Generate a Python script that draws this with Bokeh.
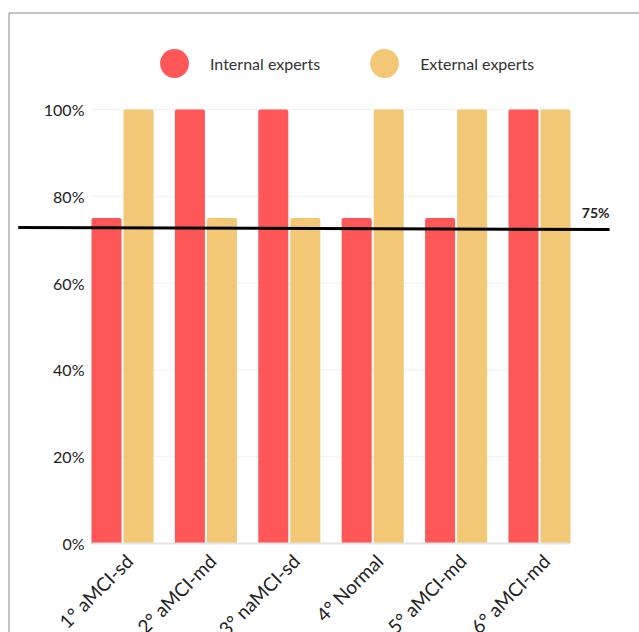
import numpy as np
from math import pi
from bokeh.plotting import figure
from bokeh.models import (ColumnDataSource, FixedTicker, Legend, LegendItem,
                          Label, BoxAnnotation)
from bokeh.embed import file_html
from bokeh.resources import INLINE

# ---- data ----
categories = ["1° aMCI-sd", "2° aMCI-md", "3° naMCI-sd", "4° Normal", "5° aMCI-md", "6° aMCI-md"]
internal = [75, 100, 100, 75, 75, 100]
external = [100, 75, 75, 100, 100, 100]
series_names = ["Internal experts", "External experts"]
y_ticks = [0, 20, 40, 60, 80, 100]
y_tick_labels = ["0%", "20%", "40%", "60%", "80%", "100%"]
threshold_x = [-1.25, 5.84]
threshold_y = [72.8, 72.35]
threshold_label = "75%"

# ---- layout / style ----
FONT = "Lato"
RED = "#FF5757"
YELLOW = "#F2C877"
TEXT = "#222222"
X_START, X_END = -1.463, 6.199      # frame covers the whole canvas
Y_START, Y_END = -20.5, 125.1
AREA_X0, AREA_X1 = -0.36, 5.36      # visual plotting area (grid extent)
LABEL_SHIFT = 0.08                  # rotated labels sit slightly right of bar pair

x = np.arange(len(categories))
src = ColumnDataSource(dict(x_int=x - 0.192, x_ext=x + 0.192,
                            internal=internal, external=external))

p = figure(width=639, height=632, x_range=(X_START, X_END), y_range=(Y_START, Y_END),
           output_backend="svg", toolbar_location=None,
           min_border_left=0, min_border_right=0,
           min_border_top=0, min_border_bottom=0)
p.background_fill_color = "white"
p.border_fill_color = "white"
p.outline_line_color = None
p.xgrid.grid_line_color = None
p.ygrid.grid_line_color = None

# horizontal grid lines limited to the plotting area
gsrc = ColumnDataSource(dict(y=y_ticks[1:], x0=[AREA_X0] * (len(y_ticks) - 1),
                             x1=[AREA_X1] * (len(y_ticks) - 1)))
p.segment(x0="x0", x1="x1", y0="y", y1="y", source=gsrc,
          line_color="#f0f0f0", line_width=1)

r_int = p.vbar(x="x_int", top="internal", width=0.36, bottom=0, source=src,
               fill_color=RED, line_color=None, border_radius=(2, 2, 0, 0))
r_ext = p.vbar(x="x_ext", top="external", width=0.36, bottom=0, source=src,
               fill_color=YELLOW, line_color=None, border_radius=(2, 2, 0, 0))

# legend proxies (circles, size 0 on the plot; legend sizes them from its glyph box)
l_int = p.scatter(x="x_int", y="internal", source=src, size=0, marker="circle",
                  fill_color=RED, line_color=None)
l_ext = p.scatter(x="x_ext", y="external", source=src, size=0, marker="circle",
                  fill_color=YELLOW, line_color=None)

legend = Legend(items=[LegendItem(label=series_names[0], renderers=[l_int], index=0),
                       LegendItem(label=series_names[1], renderers=[l_ext], index=0)],
                orientation="horizontal", location=(138, 533),
                glyph_width=72, glyph_height=72, label_standoff=0, spacing=28,
                padding=0, margin=0, border_line_color=None,
                background_fill_alpha=0,
                label_text_font=FONT, label_text_font_size="16px",
                label_text_color="#333333")
p.add_layout(legend)

# axes placed inside the frame
p.xaxis.fixed_location = 0
p.xaxis.bounds = (AREA_X0, AREA_X1)
p.xaxis.ticker = FixedTicker(ticks=[round(float(i) + LABEL_SHIFT, 2) for i in x])
p.xaxis.major_label_overrides = {round(float(i) + LABEL_SHIFT, 2): c
                                 for i, c in zip(x, categories)}
p.xaxis.major_label_orientation = pi / 4
p.xaxis.major_label_text_font = FONT
p.xaxis.major_label_text_font_size = "19px"
p.xaxis.major_label_text_color = TEXT
p.xaxis.major_tick_line_color = None
p.xaxis.minor_tick_line_color = None
p.xaxis.axis_line_color = "#e4e4e4"
p.xaxis.axis_line_width = 2
p.xaxis.major_label_standoff = 8

p.yaxis.fixed_location = AREA_X0
p.yaxis.ticker = FixedTicker(ticks=y_ticks)
p.yaxis.major_label_overrides = {t: l for t, l in zip(y_ticks, y_tick_labels)}
p.yaxis.major_label_text_font = FONT
p.yaxis.major_label_text_font_size = "16px"
p.yaxis.major_label_text_color = TEXT
p.yaxis.major_tick_line_color = None
p.yaxis.minor_tick_line_color = None
p.yaxis.axis_line_color = None
p.yaxis.major_label_standoff = 2

# threshold line
p.line(threshold_x, threshold_y, line_color="black", line_width=3)
p.add_layout(Label(x=threshold_x[1], y=threshold_y[1], text=threshold_label,
                   text_align="right", text_baseline="bottom", y_offset=8,
                   text_font=FONT, text_font_size="14px",
                   text_font_style="bold", text_color=TEXT))

# outer frame of the figure panel
p.add_layout(BoxAnnotation(left=8.5, right=2000, top=12.5, bottom=2000,
                           left_units="canvas", right_units="canvas",
                           top_units="canvas", bottom_units="canvas",
                           fill_alpha=0, line_color="#888888", line_alpha=1,
                           line_width=1))

open("out.html", "w").write(file_html(p, INLINE))
